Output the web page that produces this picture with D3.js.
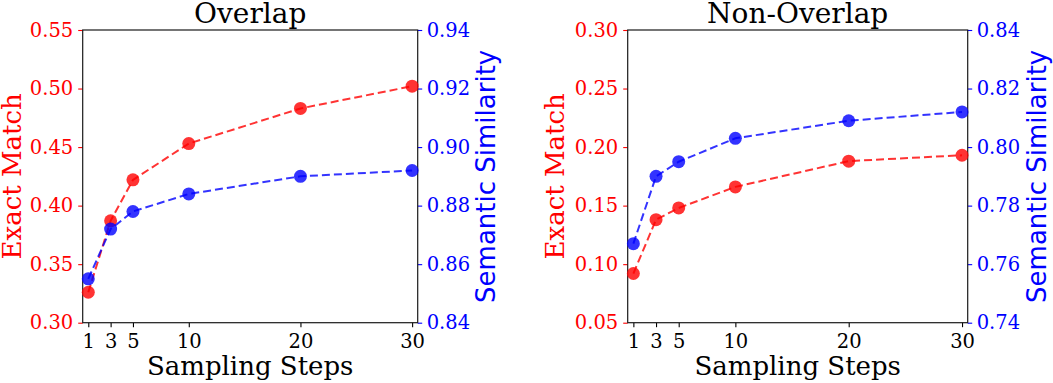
<!DOCTYPE html>
<html>
<head>
<meta charset="utf-8">
<script src="https://cdn.jsdelivr.net/npm/d3@7"></script>
<style>
  body { margin: 0; background: #fff; }
  svg { display: block; font-family: "DejaVu Serif", serif; }
</style>
</head>
<body>
<div id="chart"></div>
<script>
// sampling steps on the x axis
var steps = [1, 3, 5, 10, 20, 30];

// Overlap panel
var overlapExact = [0.326, 0.387, 0.422, 0.453, 0.483, 0.502];
var overlapSemantic = [0.855, 0.872, 0.878, 0.884, 0.890, 0.892];

// Non-Overlap panel
var nonOverlapExact = [0.092, 0.138, 0.148, 0.166, 0.188, 0.193];
var nonOverlapSemantic = [0.767, 0.790, 0.795, 0.803, 0.809, 0.812];

var overlapLeftTicks = [0.30, 0.35, 0.40, 0.45, 0.50, 0.55];
var overlapRightTicks = [0.84, 0.86, 0.88, 0.90, 0.92, 0.94];
var nonOverlapLeftTicks = [0.05, 0.10, 0.15, 0.20, 0.25, 0.30];
var nonOverlapRightTicks = [0.74, 0.76, 0.78, 0.80, 0.82, 0.84];

var W = 1053, H = 383;
var svg = d3.select('#chart').append('svg')
    .attr('width', W)
    .attr('height', H);

var plotTop = 30, plotBottom = 322.7;
var SERIF = '"DejaVu Serif", serif';
var SANS = '"DejaVu Sans", sans-serif';

function styleAxis(ax, color) {
    ax.attr('font-family', SERIF).attr('font-size', 19.5);
    ax.selectAll('line').attr('stroke', color).attr('stroke-width', 1.1);
    ax.selectAll('text').attr('fill', color);
    ax.select('.domain').remove();
}

function panel(opts) {
    var x = d3.scaleLinear().domain([0.5, 30.5]).range([opts.left, opts.right]);
    var yL = d3.scaleLinear().domain(d3.extent(opts.leftTicks)).range([plotBottom, plotTop]);
    var yR = d3.scaleLinear().domain(d3.extent(opts.rightTicks)).range([plotBottom, plotTop]);

    var g = svg.append('g');

    // Left axis (red)
    var ax = g.append('g')
        .attr('transform', 'translate(' + opts.left + ',0)')
        .call(d3.axisLeft(yL).tickValues(opts.leftTicks).tickFormat(d3.format('.2f')).tickSize(4.5).tickPadding(5));
    styleAxis(ax, 'red');

    // Right axis (blue)
    var axR = g.append('g')
        .attr('transform', 'translate(' + opts.right + ',0)')
        .call(d3.axisRight(yR).tickValues(opts.rightTicks).tickFormat(d3.format('.2f')).tickSize(4.5).tickPadding(4.5));
    styleAxis(axR, 'blue');

    // Bottom axis
    var axB = g.append('g')
        .attr('transform', 'translate(0,' + plotBottom + ')')
        .call(d3.axisBottom(x).tickValues(steps).tickFormat(d3.format('d')).tickSize(4.5).tickPadding(6.5));
    styleAxis(axB, '#000');

    // Frame
    g.append('rect')
        .attr('x', opts.left)
        .attr('y', plotTop)
        .attr('width', opts.right - opts.left)
        .attr('height', plotBottom - plotTop)
        .attr('fill', 'none')
        .attr('stroke', '#1a1a1a')
        .attr('stroke-width', 1.2);

    function series(vals, y, color) {
        var line = d3.line()
            .x(function (d, i) { return x(steps[i]); })
            .y(function (d) { return y(d); });
        g.append('path')
            .datum(vals)
            .attr('d', line)
            .attr('fill', 'none')
            .attr('stroke', color)
            .attr('stroke-width', 2)
            .attr('stroke-dasharray', '8,4')
            .attr('opacity', 0.8);
        g.selectAll(null)
            .data(vals)
            .enter()
            .append('circle')
            .attr('cx', function (d, i) { return x(steps[i]); })
            .attr('cy', function (d) { return y(d); })
            .attr('r', 6.5)
            .attr('fill', color)
            .attr('opacity', 0.8);
    }
    series(opts.exact, yL, 'red');
    series(opts.semantic, yR, 'blue');

    // Title
    g.append('text')
        .attr('x', (opts.left + opts.right) / 2)
        .attr('y', 23)
        .attr('text-anchor', 'middle')
        .style('font-size', '28px')
        .text(opts.title);

    // Axis labels
    g.append('text')
        .attr('x', (opts.left + opts.right) / 2)
        .attr('y', 375)
        .attr('text-anchor', 'middle')
        .style('font-size', '26px')
        .text('Sampling Steps');

    g.append('text')
        .attr('transform', 'translate(' + opts.leftLabelX + ',' + ((plotTop + plotBottom) / 2) + ')rotate(-90)')
        .attr('text-anchor', 'middle')
        .attr('fill', 'red')
        .style('font-size', '26px')
        .text('Exact Match');

    g.append('text')
        .attr('transform', 'translate(' + opts.rightLabelX + ',' + ((plotTop + plotBottom) / 2) + ')rotate(-90)')
        .attr('text-anchor', 'middle')
        .attr('fill', 'blue')
        .style('font-family', SANS)
        .style('font-size', '26px')
        .text('Semantic Similarity');
}

panel({
    left: 82.7, right: 417.7, title: 'Overlap',
    exact: overlapExact, semantic: overlapSemantic,
    leftTicks: overlapLeftTicks, rightTicks: overlapRightTicks,
    leftLabelX: 20.5, rightLabelX: 495
});

panel({
    left: 627.7, right: 967.7, title: 'Non-Overlap',
    exact: nonOverlapExact, semantic: nonOverlapSemantic,
    leftTicks: nonOverlapLeftTicks, rightTicks: nonOverlapRightTicks,
    leftLabelX: 564, rightLabelX: 1046
});
</script>
</body>
</html>
